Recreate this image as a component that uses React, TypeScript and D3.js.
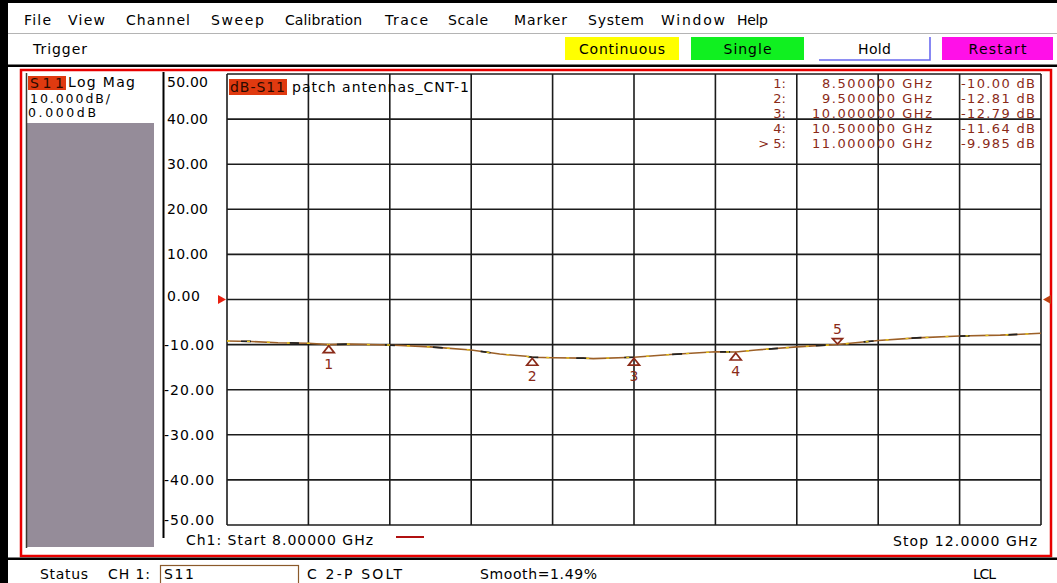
import React from "react";
import * as d3 from "d3";

// ---- Instrument data ----
const menuItems = ["File", "View", "Channel", "Sweep", "Calibration", "Trace", "Scale", "Marker", "System", "Window", "Help"];
const triggerButtons = ["Continuous", "Single", "Hold", "Restart"];

const startFreq = 8; // GHz
const stopFreq = 12; // GHz
const scalePerDiv = 10; // dB/div
const refLevel = 0; // dB
const yTickValues = [50, 40, 30, 20, 10, 0, -10, -20, -30, -40, -50];

// S11 trace (GHz, dB)
const traceFreq = [8.0, 8.12, 8.25, 8.4, 8.5, 8.6, 8.8, 9.0, 9.2, 9.34, 9.47, 9.5, 9.6, 9.75, 9.8, 10.0, 10.18, 10.4, 10.5, 10.6, 10.8, 11.0, 11.2, 11.39, 11.6, 11.8, 12.0];
const traceDb = [-9.2, -9.3, -9.6, -9.7, -10.0, -9.9, -10.1, -10.5, -11.2, -12.1, -12.6, -12.81, -12.9, -13.0, -13.1, -12.79, -12.2, -11.6, -11.64, -11.2, -10.5, -9.985, -9.1, -8.5, -8.1, -7.9, -7.5];

// Markers
const markerIds = [1, 2, 3, 4, 5];
const markerFreq = [8.5, 9.5, 10.0, 10.5, 11.0];
const markerDb = [-10.0, -12.81, -12.79, -11.64, -9.985];
const activeMarker = 5;

const traceName = "patch antennas_CNT-1";
const measurement = "S11";
const format = "Log Mag";
const calInfo = "C  2-P SOLT";
const smoothInfo = "Smooth=1.49%";

// ---- Layout ----
const W = 1057;
const H = 583;
const plot = { left: 227, right: 1041, top: 74, bottom: 525 };
const FONT = "'DejaVu Sans', Verdana, sans-serif";

const loc = d3.formatLocale({ decimal: ".", thousands: ",", grouping: [3], currency: ["", ""], minus: "-" });
const fmtTick = loc.format(".2f");
const fmtMarkerF = loc.format(".6f");
const fmtMarkerDb = loc.format(".4r");
const fmtSweep = loc.format(".6r");

type TProps = {
  x: number;
  y: number;
  w?: number;
  anchor?: "start" | "middle" | "end";
  size?: number;
  fill?: string;
  children: React.ReactNode;
};

const T = ({ x, y, w, anchor = "start", size = 14, fill = "#000", children }: TProps) => (
  <text
    x={x}
    y={y}
    textAnchor={anchor}
    dominantBaseline="central"
    fontFamily={FONT}
    fontSize={size}
    fill={fill}
    textLength={w}
    lengthAdjust={w ? "spacing" : undefined}
  >
    {children}
  </text>
);

export default function App() {
  const x = d3.scaleLinear().domain([startFreq, stopFreq]).range([plot.left, plot.right]);
  const y = d3
    .scaleLinear()
    .domain([refLevel + 5 * scalePerDiv, refLevel - 5 * scalePerDiv])
    .range([plot.top, plot.bottom]);

  const vGrid = d3.range(0, 11).map((i) => startFreq + ((stopFreq - startFreq) * i) / 10);
  const hGrid = yTickValues;

  const line = d3
    .line<number>()
    .x((_, i) => x(traceFreq[i]))
    .y((d) => y(d));
  const tracePath = line(traceDb) || "";

  const menuLayout: [number, number][] = [
    [24, 27], [68, 37], [126, 64], [211, 53], [285, 77], [385, 43],
    [448, 40], [514, 53], [588, 56], [661, 64], [737, 31],
  ];

  const buttonLayout = [
    { x0: 565, x1: 679, fill: "#ffff00", tw: 86 },
    { x0: 691, x1: 804, fill: "#10f020", tw: 48 },
    { x0: 819, x1: 930, fill: "#ffffff", tw: 33 },
    { x0: 942, x1: 1053, fill: "#ff10e8", tw: 58 },
  ];

  const markerColor = "#8a2a18";
  const tableRowY = (i: number) => 83 + i * 15;

  return (
    <svg
      width={W}
      height={H}
      viewBox={`0 0 ${W} ${H}`}
      style={{ position: "absolute", left: 0, top: 0, display: "block" }}
    >
      <rect x={0} y={0} width={W} height={H} fill="#ffffff" />
      {/* window frame */}
      <rect x={0} y={0} width={W} height={3} fill="#000" />
      <rect x={0} y={0} width={8} height={H} fill="#000" />

      {/* menu bar */}
      {menuItems.map((m, i) => (
        <T key={m} x={menuLayout[i][0]} y={20} w={menuLayout[i][1]}>
          {m}
        </T>
      ))}
      <line x1={8} x2={W} y1={33.5} y2={33.5} stroke="#b4b4b4" strokeWidth={1} />

      {/* trigger toolbar */}
      <T x={33} y={49} w={54}>Trigger</T>
      {triggerButtons.map((b, i) => {
        const L = buttonLayout[i];
        return (
          <g key={b}>
            <rect x={L.x0} y={37} width={L.x1 - L.x0} height={23} fill={L.fill} />
            {b === "Hold" && (
              <path
                d={`M${L.x0},60 H${L.x1} V37`}
                fill="none"
                stroke="#6a6af0"
                strokeWidth={1.6}
              />
            )}
            <T x={(L.x0 + L.x1) / 2} y={48.5} w={L.tw} anchor="middle">
              {b}
            </T>
          </g>
        );
      })}
      <rect x={8} y={64.5} width={W - 8} height={2.5} fill="#000" />

      {/* channel window */}
      <rect x={21} y={70} width={1030} height={486} fill="#ffffff" stroke="#e80000" strokeWidth={2.5} />
      <rect x={8} y={557.5} width={W - 8} height={2.5} fill="#000" />

      {/* left info panel */}
      <rect x={27} y={123} width={127} height={424} fill="#958c99" />
      <line x1={26.5} x2={26.5} y1={73} y2={548} stroke="#3a3a30" strokeWidth={1.5} />
      <rect x={28} y={76} width={38} height={14} fill="#e03a10" />
      <T x={30} y={83} w={34} fill="#2a0a00">{measurement}</T>
      <T x={68} y={82} w={67}>{format}</T>
      <T x={30} y={98.5} w={80} size={12.5}>{`${loc.format(".3f")(scalePerDiv)}dB/`}</T>
      <T x={28} y={112} w={68} size={12.5}>{`${loc.format(".3f")(refLevel)}dB`}</T>

      {/* scale divider */}
      <line x1={163.5} x2={163.5} y1={72} y2={538} stroke="#000" strokeWidth={2} />

      {/* y tick labels */}
      {yTickValues.map((v) => {
        const cy = Math.min(520, Math.max(82, y(v))) - (v === 0 ? 4 : 0);
        const s = fmtTick(v);
        return (
          <T key={v} x={v < 0 ? 164 : 167} y={cy} w={s.length * 8.2 + (v < 0 ? 1 : 0)}>
            {s}
          </T>
        );
      })}

      {/* graticule */}
      <g stroke="#1c1c1c" strokeWidth={1.6}>
        {hGrid.map((v) => (
          <line key={`h${v}`} x1={plot.left} x2={plot.right} y1={y(v)} y2={y(v)} />
        ))}
        {vGrid.map((f) => (
          <line key={`v${f}`} x1={x(f)} x2={x(f)} y1={plot.top} y2={plot.bottom} />
        ))}
      </g>

      {/* trace title */}
      <rect x={229} y={79} width={58} height={16} fill="#e03a10" />
      <T x={230} y={87} w={55} fill="#2a0a00">{`dB-${measurement}`}</T>
      <T x={292} y={87} w={177}>{traceName}</T>

      {/* marker readout table */}
      {markerIds.map((id, i) => (
        <g key={`row${id}`}>
          <T x={786} y={tableRowY(i)} anchor="end" fill={markerColor} size={13}>
            {id === activeMarker ? `> ${id}:` : `${id}:`}
          </T>
          <T x={932} y={tableRowY(i)} anchor="end" fill={markerColor} size={13} w={markerFreq[i] >= 10 ? 120 : 110}>
            {`${fmtMarkerF(markerFreq[i])} GHz`}
          </T>
          <T x={961} y={tableRowY(i)} fill={markerColor} size={13} w={74}>
            {`${fmtMarkerDb(markerDb[i])} dB`}
          </T>
        </g>
      ))}

      {/* reference level arrows */}
      <path d={`M${plot.left - 9},${y(refLevel) - 4.5} L${plot.left - 1},${y(refLevel)} L${plot.left - 9},${y(refLevel) + 4.5} Z`} fill="#e82010" />
      <path d={`M${plot.right + 10},${y(refLevel) - 4.5} L${plot.right + 2},${y(refLevel)} L${plot.right + 10},${y(refLevel) + 4.5} Z`} fill="#c04010" />

      {/* S11 trace */}
      <path d={tracePath} fill="none" stroke="#9c6028" strokeWidth={1.6} />
      <path d={tracePath} fill="none" stroke="#222" strokeWidth={1.7} strokeDasharray="10 38" strokeDashoffset={-14} />
      <path d={tracePath} fill="none" stroke="#e8c418" strokeWidth={1.4} strokeDasharray="3 17" />

      {/* markers */}
      {markerIds.map((id, i) => {
        const mx = x(markerFreq[i]);
        const my = y(markerDb[i]);
        if (id === activeMarker) {
          return (
            <g key={`m${id}`}>
              <path d={`M${mx - 5},${my - 6} L${mx + 5},${my - 6} L${mx},${my - 0.5} Z`} fill="none" stroke={markerColor} strokeWidth={1.7} />
              <T x={mx} y={my - 16} anchor="middle" fill={markerColor}>{id}</T>
            </g>
          );
        }
        return (
          <g key={`m${id}`}>
            <path d={`M${mx},${my + 1} L${mx + 5.5},${my + 8} L${mx - 5.5},${my + 8} Z`} fill="none" stroke={markerColor} strokeWidth={1.7} />
            <T x={mx} y={my + 19} anchor="middle" fill={markerColor}>{id}</T>
          </g>
        );
      })}

      {/* sweep range */}
      <T x={186} y={540} w={187}>{`Ch1: Start  ${fmtSweep(startFreq)} GHz`}</T>
      <line x1={396} x2={424} y1={537} y2={537} stroke="#b01010" strokeWidth={2} />
      <T x={1037} y={541} anchor="end" w={144}>{`Stop  ${fmtSweep(stopFreq)} GHz`}</T>

      {/* status bar */}
      <T x={40} y={574} w={48}>Status</T>
      <T x={108} y={574} w={42}>CH 1:</T>
      <rect x={160.5} y={565.5} width={138} height={20} fill="#fff" stroke="#8b5a2b" strokeWidth={1.2} />
      <T x={164} y={574} w={30}>{measurement}</T>
      <T x={307} y={574} w={95}>{calInfo}</T>
      <T x={480} y={574} w={117}>{smoothInfo}</T>
      <T x={973} y={574} w={23}>LCL</T>
    </svg>
  );
}
